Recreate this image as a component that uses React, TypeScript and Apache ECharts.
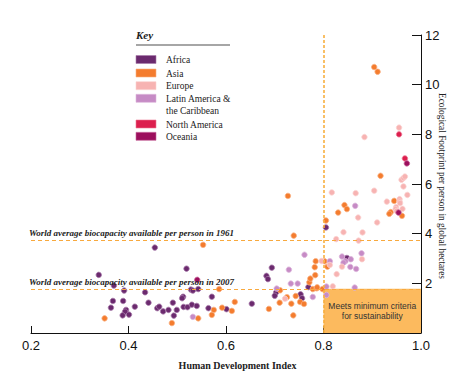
import React, { useEffect, useRef } from 'react';
import * as echarts from 'echarts';

const regionNames = ['Africa', 'Asia', 'Europe', 'Latin America &\nthe Caribbean', 'North America', 'Oceania'];
const regionColors = ['#6B2A6E', '#F47C2E', '#F7B3B2', '#C68BC5', '#DC1F4E', '#9C0F5D'];
const regionBorders = ['#A77AAA', '#F9B082', '#FBD3D2', '#DDB6DC', '#EE7A95', '#C8689C'];

const africa: number[][] = [
  [0.454, 3.44], [0.339, 2.34], [0.370, 1.91], [0.391, 1.71], [0.434, 1.64], [0.368, 1.29], [0.389, 1.29],
  [0.441, 1.22], [0.491, 1.22], [0.364, 1.02], [0.413, 1.06], [0.395, 0.93], [0.393, 0.86], [0.388, 0.71],
  [0.401, 0.74], [0.459, 1.00], [0.463, 1.06], [0.471, 0.87], [0.482, 0.93], [0.499, 0.93], [0.493, 0.70],
  [0.519, 2.59], [0.528, 1.75], [0.532, 1.71], [0.543, 1.77], [0.571, 1.46], [0.512, 1.46], [0.510, 1.40],
  [0.513, 1.05], [0.521, 1.04], [0.530, 1.14], [0.540, 1.09], [0.564, 1.00], [0.601, 0.96], [0.653, 1.18],
  [0.694, 2.63], [0.683, 2.30], [0.686, 2.17], [0.703, 1.64], [0.700, 1.50], [0.753, 1.56], [0.756, 1.40],
  [0.769, 1.85], [0.805, 4.25], [0.848, 3.02]
];
const asia: number[][] = [
  [0.351, 0.59], [0.489, 0.40], [0.586, 1.77], [0.592, 1.02], [0.575, 0.93], [0.612, 0.89], [0.618, 1.25],
  [0.571, 0.73], [0.543, 0.59], [0.688, 0.97], [0.711, 1.72], [0.725, 1.44], [0.710, 1.22], [0.734, 1.18],
  [0.743, 1.49], [0.752, 1.25], [0.760, 1.17], [0.738, 0.71], [0.771, 2.04], [0.773, 2.19], [0.783, 2.33],
  [0.782, 2.65], [0.784, 2.89], [0.778, 1.77], [0.786, 1.80], [0.739, 3.92], [0.553, 3.55], [0.787, 1.84],
  [0.808, 2.67], [0.802, 2.89], [0.805, 4.53], [0.727, 5.52], [0.917, 6.33], [0.945, 5.32], [0.843, 5.15],
  [0.848, 4.99], [0.830, 4.85], [0.938, 4.87], [0.935, 4.80], [0.961, 4.72], [0.904, 10.71], [0.911, 10.52],
  [0.798, 1.77]
];
const europe: number[][] = [
  [0.796, 2.90], [0.960, 6.17], [0.964, 6.24], [0.967, 6.30], [0.964, 5.90], [0.972, 5.56], [0.817, 5.66],
  [0.866, 5.63], [0.904, 5.73], [0.930, 5.29], [0.956, 5.39], [0.956, 5.29], [0.957, 5.23], [0.949, 5.07],
  [0.871, 4.65], [0.910, 4.45], [0.841, 4.06], [0.880, 4.05], [0.826, 3.78], [0.872, 3.72], [0.948, 4.99],
  [0.950, 4.91], [0.962, 5.00], [0.879, 2.97], [0.838, 2.67], [0.813, 2.74], [0.827, 2.37], [0.819, 1.88],
  [0.955, 8.27], [0.884, 7.89], [0.721, 1.38]
];
const latinAmerica: number[][] = [
  [0.532, 0.65], [0.729, 2.55], [0.761, 3.15], [0.747, 1.99], [0.733, 1.99], [0.704, 1.79], [0.778, 1.45],
  [0.865, 5.12], [0.838, 3.08], [0.856, 2.97], [0.845, 2.89], [0.841, 2.83], [0.878, 3.21], [0.855, 2.66],
  [0.867, 2.58], [0.813, 2.89], [0.864, 1.83], [0.806, 1.87], [0.806, 1.53]
];
const northAmerica: number[][] = [[0.955, 8.0], [0.967, 7.03]];
const oceania: number[][] = [[0.541, 2.14], [0.971, 6.83], [0.954, 4.85]];

const regionData = [africa, asia, europe, latinAmerica, northAmerica, oceania];
const drawOrder = [0, 1, 3, 2, 4, 5];

const xTicks = [0.2, 0.4, 0.6, 0.8, 1.0];
const yTicks = [0, 2, 4, 6, 8, 10, 12];
const biocapacity1961 = 3.75;
const biocapacity2007 = 1.78;
const hdiThreshold = 0.8;
const xAxisTitle = 'Human Development Index';
const yAxisTitle = 'Ecological Footprint per person in global hectares';
const label1961 = 'World average biocapacity available per person in 1961';
const label2007 = 'World average biocapacity available per person in 2007';
const boxLabel = 'Meets minimum criteria\nfor sustainability';

const SERIF = '"Liberation Serif", "DejaVu Serif", serif';
const SANS = '"Liberation Sans", Arial, sans-serif';

export default function App() {
  const ref = useRef<HTMLDivElement>(null);
  useEffect(() => {
    if (!ref.current) return;
    const chart = echarts.init(ref.current, undefined, { renderer: 'svg' });

    const legendTops = [55.5, 69, 81.7, 94.3, 120, 132.3];
    const graphicElems: any[] = [
      { type: 'text', left: 136, top: 29, style: { text: 'Key', font: `italic bold 11px ${SERIF}`, fill: '#222' } },
      { type: 'line', shape: { x1: 136, y1: 45, x2: 230, y2: 45 }, style: { stroke: '#888', lineWidth: 1.5 } },
      {
        type: 'text', x: 442, y: 186, rotation: -Math.PI / 2,
        style: { text: yAxisTitle, font: `9.3px ${SERIF}`, fill: '#222', align: 'center', verticalAlign: 'middle' },
      },
    ];
    regionNames.forEach((name, i) => {
      graphicElems.push({
        type: 'rect', shape: { x: 136, y: legendTops[i], width: 20, height: 8 },
        style: { fill: regionColors[i], stroke: regionBorders[i], lineWidth: 0.6 },
      });
      graphicElems.push({
        type: 'text', x: 166, y: legendTops[i] - 1,
        style: { text: name, font: `9.5px ${SERIF}`, fill: '#222', lineHeight: 11.5, verticalAlign: 'top' },
      });
    });

    const refLabel = {
      show: true, position: 'insideStartTop', distance: [-2, 2],
      color: '#222', fontSize: 9, fontStyle: 'italic', fontWeight: 'bold', fontFamily: SERIF,
    };

    const series: any[] = [
      {
        name: 'reference', type: 'scatter', data: [], z: 1, silent: true,
        markArea: {
          silent: true,
          data: [[
            {
              coord: [hdiThreshold, 0],
              itemStyle: { color: '#FCBA5E' },
              label: {
                show: true, position: 'inside', formatter: boxLabel, color: '#333',
                fontSize: 8.5, fontFamily: SANS, lineHeight: 9.5, align: 'center',
              },
            },
            { coord: [1.0, biocapacity2007] },
          ]],
        },
        markLine: {
          silent: true, symbol: 'none', animation: false,
          data: [
            {
              yAxis: biocapacity1961,
              lineStyle: { color: '#F8A93E', type: [4, 3], width: 1.2 },
              label: { ...refLabel, formatter: label1961 },
            },
            {
              yAxis: biocapacity2007,
              lineStyle: { color: '#F8A93E', type: [4, 3], width: 1.2 },
              label: { ...refLabel, formatter: label2007 },
            },
            {
              xAxis: hdiThreshold,
              lineStyle: { color: '#F8B040', type: [3, 2], width: 1.6 },
              label: { show: false },
            },
          ],
        },
      },
    ];
    drawOrder.forEach((i) => {
      series.push({
        name: regionNames[i], type: 'scatter', z: 3, data: regionData[i], symbol: 'circle', symbolSize: 5.5,
        itemStyle: { color: regionColors[i], borderColor: regionBorders[i], borderWidth: 0.8, opacity: 1 },
      });
    });

    chart.setOption({
      animation: false,
      backgroundColor: '#fff',
      grid: { left: 31, right: 51, top: 35, bottom: 47, containLabel: false },
      xAxis: {
        type: 'value', min: xTicks[0], max: xTicks[xTicks.length - 1], interval: 0.2,
        name: xAxisTitle, nameLocation: 'middle', nameGap: 27,
        nameTextStyle: { fontFamily: SERIF, fontSize: 10, fontWeight: 'bold', color: '#222', padding: [0, 0, 0, 23] },
        axisLine: { lineStyle: { color: '#111', width: 1 } },
        axisTick: { inside: true, length: 7, lineStyle: { color: '#111' } },
        axisLabel: { formatter: (v: number) => v.toFixed(1), fontFamily: SANS, fontSize: 13, color: '#111', margin: 6 },
        splitLine: { show: false },
      },
      yAxis: {
        type: 'value', position: 'right', min: yTicks[0], max: yTicks[yTicks.length - 1], interval: 2,
        axisLine: { show: true, lineStyle: { color: '#111', width: 1 } },
        axisTick: { show: true, inside: true, length: 9, lineStyle: { color: '#111' } },
        axisLabel: { formatter: (v: number) => (v === 0 ? '' : String(v)), fontFamily: SANS, fontSize: 13, color: '#111', margin: 4 },
        splitLine: { show: false },
      },
      graphic: graphicElems,
      series,
    });
    return () => chart.dispose();
  }, []);
  return <div ref={ref} style={{ position: 'absolute', left: 0, top: 0, width: 472, height: 380 }} />;
}
